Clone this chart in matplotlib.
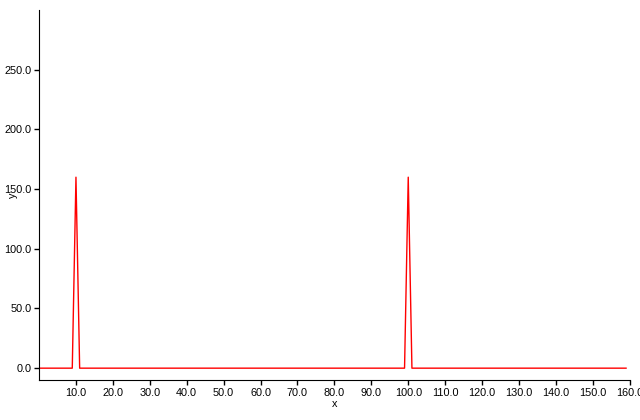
import matplotlib
matplotlib.use('Agg')
import matplotlib.pyplot as plt
import numpy as np

plt.rcParams['font.family'] = ['Liberation Sans', 'DejaVu Sans']

# data: flat signal with two spikes
x = np.arange(0, 160)
y = np.zeros(len(x))
spike_x = [10, 100]
spike_y = [160, 160]
for sx, sy in zip(spike_x, spike_y):
    y[x == sx] = sy

xticks = np.arange(10, 161, 10)
yticks = np.arange(0, 251, 50)

fig = plt.figure(figsize=(6.4, 4.2), dpi=100)
ax = fig.add_axes([0.061, 0.095, 0.923, 0.881])
ax.plot(x, y, color='red', linewidth=1.0)

ax.set_xlim(0, 160)
ax.set_ylim(-10, 300)
ax.set_xticks(xticks)
ax.set_xticklabels(['%.1f' % v for v in xticks])
ax.set_yticks(yticks)
ax.set_yticklabels(['%.1f' % v for v in yticks])
ax.tick_params(labelsize=7.8, length=3.6, width=1, pad=2)

ax.spines['top'].set_visible(False)
ax.spines['right'].set_visible(False)
ax.set_xlabel('x', fontsize=7.8, labelpad=1)
ax.set_ylabel('y', fontsize=7.8)
ax.yaxis.set_label_coords(-0.035, 0.5)

fig.savefig('out.png', dpi=100)
